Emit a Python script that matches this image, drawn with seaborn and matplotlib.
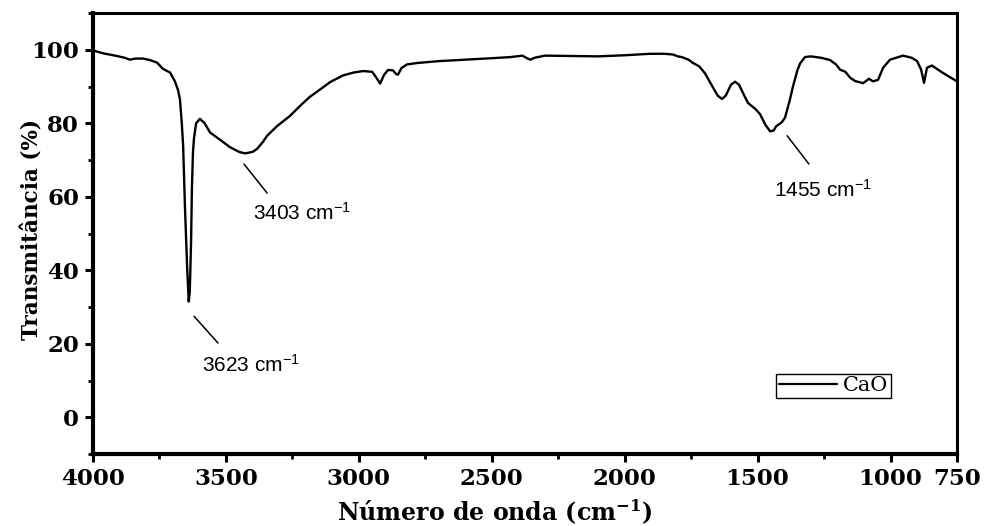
import numpy as np
import pandas as pd
import matplotlib
matplotlib.use("Agg")
import matplotlib.pyplot as plt
import seaborn as sns

# ---- data ----
wavenumber = [4000, 3960, 3910, 3880, 3861, 3840, 3812, 3786, 3759, 3737, 3710, 3692,
              3680, 3673, 3666, 3661, 3654, 3646, 3640, 3636, 3631, 3628, 3624, 3620,
              3612, 3598, 3580, 3560, 3522, 3485, 3450, 3428, 3400, 3383, 3360, 3345,
              3308, 3259, 3220, 3184, 3140, 3108, 3060, 3020, 2984, 2950, 2935, 2920,
              2905, 2890, 2872, 2860, 2853, 2840, 2819, 2780, 2700, 2600, 2500, 2430,
              2385, 2365, 2355, 2340, 2300, 2200, 2100, 2000, 1905, 1850, 1818, 1800,
              1785, 1760, 1743, 1720, 1698, 1670, 1650, 1634, 1620, 1600, 1585, 1570,
              1550, 1536, 1510, 1491, 1470, 1453, 1440, 1430, 1410, 1397, 1380, 1367,
              1350, 1340, 1322, 1300, 1260, 1228, 1205, 1190, 1170, 1152, 1134, 1103,
              1081, 1066, 1047, 1028, 1002, 953, 920, 900, 885, 874, 863, 844,
              803, 750]
transmittance = [99.8, 99.0, 98.3, 97.8, 97.3, 97.6, 97.6, 97.2, 96.5, 94.8, 93.8, 91.4,
                 89.0, 86.5, 80.0, 74.0, 57.0, 41.0, 31.5, 34.0, 48.0, 62.0, 72.0, 76.0,
                 80.0, 81.2, 80.0, 77.5, 75.5, 73.5, 72.2, 71.8, 72.2, 73.0, 75.0, 76.6,
                 79.2, 82.0, 84.8, 87.2, 89.5, 91.2, 93.0, 93.8, 94.2, 94.0, 92.5, 90.8,
                 93.2, 94.5, 94.4, 93.4, 93.2, 95.0, 96.0, 96.4, 96.9, 97.3, 97.7, 98.0,
                 98.4, 97.6, 97.3, 97.8, 98.4, 98.3, 98.2, 98.5, 98.9, 98.9, 98.7, 98.2,
                 98.0, 97.3, 96.4, 95.5, 93.6, 90.0, 87.5, 86.6, 87.5, 90.5, 91.3, 90.5,
                 87.5, 85.5, 84.0, 82.5, 79.5, 77.8, 78.0, 79.2, 80.2, 81.5, 86.0, 90.0,
                 94.5, 96.3, 98.0, 98.2, 97.8, 97.2, 96.0, 94.6, 94.0, 92.4, 91.5, 90.9,
                 92.1, 91.4, 91.8, 95.1, 97.3, 98.4, 97.8, 96.9, 94.6, 91.0, 95.1, 95.7,
                 93.7, 91.4]
series_name = "CaO"

x_ticks = [4000, 3500, 3000, 2500, 2000, 1500, 1000, 750]
x_tick_labels = ["4000", "3500", "3000", "2500", "2000", "1500", "1000", "750"]
x_minor = [3750, 3250, 2750, 2250, 1750, 1250]
y_ticks = [0, 20, 40, 60, 80, 100]
y_minor = [-10, 10, 30, 50, 70, 90, 110]

# annotations: (label, line start, line end, text position) in data coords
annot_labels = ["3623 cm$^{-1}$", "3403 cm$^{-1}$", "1455 cm$^{-1}$"]
annot_line_start = [(3620, 27.5), (3432, 68.9), (1389, 76.6)]
annot_line_end = [(3530, 20.2), (3345, 61.0), (1307, 68.9)]
annot_text_pos = [(3590, 14.2), (3398, 55.6), (1438, 61.9)]

df = pd.DataFrame({"wn": wavenumber, "T": transmittance})

sns.set_theme(style="white")
plt.rcParams["font.family"] = ["DejaVu Serif"]
plt.rcParams["mathtext.default"] = "regular"
for key in ["text.color", "axes.labelcolor", "xtick.color", "ytick.color",
            "axes.edgecolor"]:
    plt.rcParams[key] = "black"

fig = plt.figure(figsize=(9.85, 5.26), dpi=100)
ax = fig.add_axes([93 / 985, 1 - 454 / 526, 864 / 985, 441 / 526])

sns.lineplot(data=df, x="wn", y="T", sort=False, color="black", lw=1.7,
             label=series_name, ax=ax)

ax.set_xlim(4000, 750)
ax.set_ylim(-10, 110)
ax.set_xticks(x_ticks)
ax.set_xticklabels(x_tick_labels)
ax.set_xticks(x_minor, minor=True)
ax.set_yticks(y_ticks)
ax.set_yticks(y_minor, minor=True)

for lab in ax.get_xticklabels() + ax.get_yticklabels():
    lab.set_fontweight("bold")
    lab.set_fontsize(16.5)
    lab.set_color("black")

ax.tick_params(axis="both", which="major", direction="out", length=6, width=2.2,
               color="black", labelcolor="black", pad=4, bottom=True, left=True)
ax.tick_params(axis="both", which="minor", direction="out", length=3.5, width=2.0,
               color="black", bottom=True, left=True)

for side in ["left", "bottom"]:
    ax.spines[side].set_linewidth(3.0)
    ax.spines[side].set_color("black")
for side in ["top", "right"]:
    ax.spines[side].set_linewidth(2.2)
    ax.spines[side].set_color("black")
    ax.spines[side].set_visible(True)

ax.set_xlabel("Número de onda (cm$^{-1}$)", fontsize=17, fontweight="bold", color="black")
ax.set_ylabel("Transmitância (%)", fontsize=15.5, fontweight="bold", color="black")
ax.xaxis.set_label_coords(0.465, -0.1)
ax.yaxis.set_label_coords(-0.057, 0.51)

for lab, p0, p1, pt in zip(annot_labels, annot_line_start, annot_line_end, annot_text_pos):
    ax.plot([p0[0], p1[0]], [p0[1], p1[1]], color="black", lw=1.1)
    ax.text(pt[0], pt[1], lab, family=["Liberation Sans", "DejaVu Sans"], fontsize=15,
            ha="left", va="center", color="black")

leg = ax.legend(loc="center", bbox_to_anchor=(0.857, 0.155), frameon=True,
                fancybox=False, edgecolor="black", framealpha=1,
                prop={"family": "DejaVu Serif", "size": 15},
                handlelength=2.8, handletextpad=0.3, borderpad=0.12,
                borderaxespad=0)
leg.get_frame().set_linewidth(1.0)
for text in leg.get_texts():
    text.set_color("black")
for line in leg.get_lines():
    line.set_linewidth(1.6)

fig.savefig("out.png", dpi=100)
